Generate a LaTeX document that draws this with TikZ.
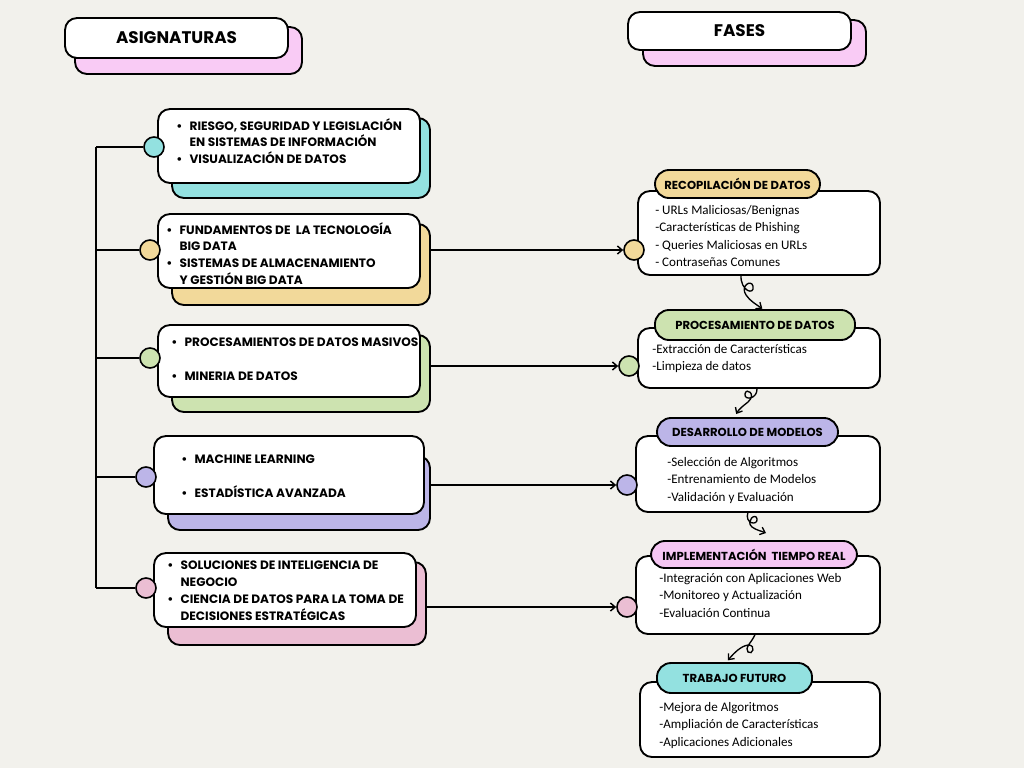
\documentclass[tikz,border=0pt]{standalone}
\usepackage{fontspec}
\setmainfont{Carlito}
\newfontfamily\hand{Poppins}
\usetikzlibrary{arrows.meta}

\definecolor{paper}{HTML}{F2F1EC}
\definecolor{pinkish}{HTML}{F9CBF5}
\definecolor{teal}{HTML}{93E1E0}
\definecolor{sand}{HTML}{F2D99A}
\definecolor{sage}{HTML}{CDE3B0}
\definecolor{lilac}{HTML}{BCB5E8}
\definecolor{rose}{HTML}{EBBED3}
\definecolor{orchid}{HTML}{F5C6F3}

% box from corner to corner, in pixels
\newcommand\boxat[7]{\node[#2, minimum width={(#5-#3)*0.75pt}, minimum height={(#6-#4)*0.75pt}] (#1) at ({(#3+#5)/2},{(#4+#6)/2}) {#7};}
\newcommand\itm{\makebox[10pt][l]{\textbullet}}
\newcommand\gap{\hspace*{10pt}}

\tikzset{
	card/.style={draw, line width=1.4pt, rounded corners=9pt, inner sep=0pt, outer sep=0pt},
	pill/.style={draw, line width=1.4pt, rounded corners=10.5pt, inner sep=0pt, outer sep=0pt, font=\hand\bfseries\fontsize{8.7}{10}\selectfont},
	title/.style={draw, line width=1.4pt, rounded corners=9pt, inner sep=0pt, outer sep=0pt, font=\hand\bfseries\fontsize{12.6}{14}\selectfont},
	dot/.style={circle, draw, line width=1.2pt, minimum size=15pt, inner sep=0pt},
	% placed at the baseline of the last line
	caps/.style={font=\hand\bfseries\fontsize{9.1}{12.6}\selectfont, align=left, anchor=base west, inner sep=0pt},
	body/.style={font=\fontsize{9.8}{13.2}\selectfont, align=left, anchor=base west, inner sep=0pt},
	link/.style={line width=1.1pt, -{Straight Barb[length=3.5pt,width=6pt]}},
	curl/.style={line width=1pt, -{Straight Barb[length=3.5pt,width=6pt]}},
}

\begin{document}
\begin{tikzpicture}[x=0.75pt,y=-0.75pt]
	\fill[paper] (0,0) rectangle (1024,768);
	\useasboundingbox (0,0) rectangle (1024,768);

	% titles
	\boxat{ts1}{card, fill=pinkish}{75}{27}{302}{74}{}
	\boxat{t1}{title, fill=white}{65}{18}{288}{58}{ASIGNATURAS}
	\boxat{ts2}{card, fill=pinkish}{643}{20}{866}{66}{}
	\boxat{t2}{title, fill=white}{628}{12}{851}{50}{FASES}

	% asignaturas
	\boxat{s1}{card, fill=teal}{172}{118}{430}{198}{}
	\boxat{a1}{card, fill=white}{158}{109}{420}{183}{}
	\boxat{s2}{card, fill=sand}{172}{224}{430}{305}{}
	\boxat{a2}{card, fill=white}{158}{214}{420}{288}{}
	\boxat{s3}{card, fill=sage}{172}{335}{430}{412}{}
	\boxat{a3}{card, fill=white}{158}{325}{420}{397}{}
	\boxat{s4}{card, fill=lilac}{168}{456}{430}{530}{}
	\boxat{a4}{card, fill=white}{154}{436}{424}{514}{}
	\boxat{s5}{card, fill=rose}{168}{562}{426}{645}{}
	\boxat{a5}{card, fill=white}{154}{553}{416}{627}{}

	\node[dot, fill=teal] (l1) at (154,147) {};
	\node[dot, fill=sand] (l2) at (150,250) {};
	\node[dot, fill=sage] (l3) at (150,358) {};
	\node[dot, fill=lilac] (l4) at (146,477) {};
	\node[dot, fill=rose] (l5) at (146,588) {};

	\node[caps] (x1) at (176,163.6) {\itm RIESGO, SEGURIDAD Y LEGISLACIÓN\\ \gap EN SISTEMAS DE INFORMACIÓN\\ \itm VISUALIZACIÓN DE DATOS};
	\node[caps] (x2) at (166,284.4) {\itm FUNDAMENTOS DE \ LA TECNOLOGÍA\\ \gap BIG DATA\\ \itm SISTEMAS DE ALMACENAMIENTO\\ \gap Y GESTIÓN BIG DATA};
	\node[caps] (x3) at (171,380) {\itm PROCESAMIENTOS DE DATOS MASIVOS\\[12.6pt] \itm MINERIA DE DATOS};
	\node[caps] (x4) at (181,497) {\itm MACHINE LEARNING\\[12.6pt] \itm ESTADÍSTICA AVANZADA};
	\node[caps] (x5) at (167,620) {\itm SOLUCIONES DE INTELIGENCIA DE\\ \gap NEGOCIO\\ \itm CIENCIA DE DATOS PARA LA TOMA DE\\ \gap DECISIONES ESTRATÉGICAS};

	% bus
	\coordinate (top) at (96,147);
	\coordinate (bot) at (96,588);
	\draw[line width=1.1pt] (top) -- (bot);
	\foreach \i in {1,...,5}
		\draw[line width=1.1pt] (top |- l\i) -- (l\i.west);

	% fases
	\boxat{p1}{card, fill=white}{638}{191}{880}{275}{}
	\boxat{h1}{pill, fill=sand}{655}{170}{820}{198}{RECOPILACIÓN DE DATOS}
	\boxat{p2}{card, fill=white}{638}{328}{880}{388}{}
	\boxat{h2}{pill, fill=sage}{655}{310}{855}{340}{PROCESAMIENTO DE DATOS}
	\boxat{p3}{card, fill=white}{636}{436}{880}{512}{}
	\boxat{h3}{pill, fill=lilac}{657}{418}{838}{446}{DESARROLLO DE MODELOS}
	\boxat{p4}{card, fill=white}{636}{556}{880}{634}{}
	\boxat{h4}{pill, fill=orchid}{651}{541}{857}{568}{IMPLEMENTACIÓN \ TIEMPO REAL}
	\boxat{p5}{card, fill=white}{640}{682}{880}{757}{}
	\boxat{h5}{pill, fill=teal}{657}{663}{812}{693}{TRABAJO FUTURO}

	\node[dot, fill=sand] (r1) at (634,250) {};
	\node[dot, fill=sage] (r2) at (629,366) {};
	\node[dot, fill=lilac] (r3) at (627,485) {};
	\node[dot, fill=rose] (r4) at (627,607) {};

	\node[body] (y1) at (655,266.8) {- URLs Maliciosas/Benignas\\-Características de Phishing\\- Queries Maliciosas en URLs\\- Contraseñas Comunes};
	\node[body] (y2) at (652,370.6) {-Extracción de Características\\-Limpieza de datos};
	\node[body] (y3) at (667,501.2) {-Selección de Algoritmos\\-Entrenamiento de Modelos\\-Validación y Evaluación};
	\node[body] (y4) at (659,617.2) {-Integración con Aplicaciones Web\\-Monitoreo y Actualización\\-Evaluación Continua};
	\node[body] (y5) at (659,746.2) {-Mejora de Algoritmos\\-Ampliación de Características\\-Aplicaciones Adicionales};

	% links
	\draw[link] (s2.east |- r1) -- (r1.west);
	\draw[link] (s3.east |- r2) -- (r2.west);
	\draw[link] (s4.east |- r3) -- (r3.west);
	\draw[link] (s5.east |- r4) -- (r4.west);

	% curls
	\draw[curl] ([xshift=-13.5pt]p1.south) .. controls (740,291) and (755,296) .. (753,286)
		.. controls (751,279) and (740,286) .. (746,295) .. controls (750,301) and (757,305) .. ([xshift=5.5pt,yshift=1pt]h2.north);
	\draw[curl] ([xshift=-1.5pt]p2.south) .. controls (758,399) and (744,401) .. (745,394)
		.. controls (746,387) and (757,394) .. (748,402) .. controls (743,406) and (739,409) .. ([xshift=-8.5pt,yshift=3pt]h3.north);
	\draw[curl] ([xshift=-7.5pt]p3.south) .. controls (744,524) and (758,526) .. (757,519)
		.. controls (756,512) and (745,521) .. (752,527) .. controls (756,530) and (761,531) .. ([xshift=9pt,yshift=6pt]h4.north);
	\draw[curl] ([xshift=-2pt]p4.south) .. controls (752,642) and (744,648) .. (748,652)
		.. controls (752,656) and (757,645) .. (748,645) .. controls (741,646) and (734,653) .. ([xshift=-5pt,yshift=2pt]h5.north);
\end{tikzpicture}
\end{document}
